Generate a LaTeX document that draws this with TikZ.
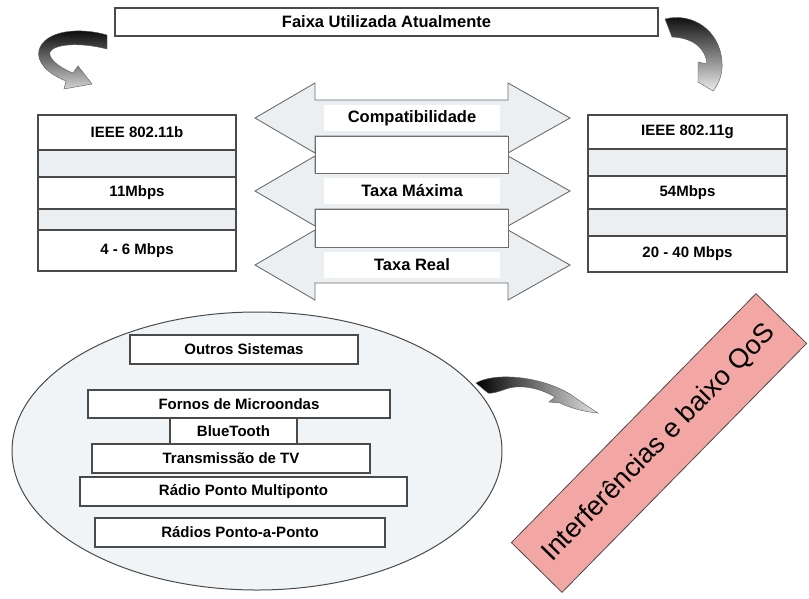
\documentclass[tikz,border=0pt]{standalone}
\usepackage{fontspec}
\setmainfont{Liberation Sans}
\usetikzlibrary{shapes.geometric}
\definecolor{edge}{HTML}{4A4A4A}
\definecolor{pale}{HTML}{EBEFF2}
\definecolor{bubble}{HTML}{F0F4F7}
\definecolor{rose}{HTML}{F3A7A4}
\newcommand{\lbl}{\bfseries\fontsize{15}{18}\selectfont}
\newcommand{\biglbl}{\bfseries\fontsize{16.5}{19}\selectfont}
\begin{document}
\begin{tikzpicture}[x=1pt,y=-1pt,
  frame/.style={draw=edge, line width=1.1pt, inner sep=0pt, font=\lbl},
  lrow/.style={frame, minimum width=198pt},
  rrow/.style={frame, minimum width=199pt},
  txtrow/.style={fill=white},
  gaprow/.style={fill=pale},
  blockarrow/.style={draw=edge!80, line width=0.9pt, fill=pale},
  shaftlabel/.style={fill=white, inner sep=0pt, minimum width=176pt, minimum height=26pt, font=\biglbl},
  lbox/.style={frame, fill=white, minimum height=29pt},
  swoosh/.style={draw=gray!70!black, line width=0.4pt}]
\useasboundingbox (0,0) rectangle (809,598);
\fill[white] (0,0) rectangle (809,598);

% title bar
\node[frame, fill=white, minimum width=543pt, minimum height=28pt, font=\biglbl] (faixa) at (386.5,22) {Faixa Utilizada Atualmente};

% curled arrows from the title down to both standards
\shade[swoosh, top color=black, bottom color=gray!35]
  (107,35) .. controls (80,27) and (45,30) .. (39,50)
  .. controls (36,62) and (48,74) .. (66,81) -- (64,89) -- (92,84) -- (78,66) -- (73,73)
  .. controls (58,67) and (48,58) .. (50,52)
  .. controls (54,44) and (80,42) .. (107,49) -- cycle;
\shade[swoosh, top color=black, bottom color=gray!15]
  (665,19) .. controls (692,12) and (720,30) .. (722,62)
  .. controls (723,75) and (718,85) .. (713,91) -- (698,82) -- (698,62) -- (707,64)
  .. controls (706,50) and (695,38) .. (672,37) -- cycle;

% IEEE 802.11b column
\node[lrow, txtrow, minimum height=35pt] (b1) at (137,132.5) {IEEE 802.11b};
\node[lrow, gaprow, minimum height=27pt] (b2) at (137,163.5) {};
\node[lrow, txtrow, minimum height=32pt] (b3) at (137,193) {11Mbps};
\node[lrow, gaprow, minimum height=21pt] (b4) at (137,219.5) {};
\node[lrow, txtrow, minimum height=41pt] (b5) at (137,250.5) {4 - 6 Mbps};

% IEEE 802.11g column
\node[rrow, txtrow, minimum height=34pt] (g1) at (687.5,132) {IEEE 802.11g};
\node[rrow, gaprow, minimum height=27pt] (g2) at (687.5,162.5) {};
\node[rrow, txtrow, minimum height=33pt] (g3) at (687.5,192.5) {54Mbps};
\node[rrow, gaprow, minimum height=27pt] (g4) at (687.5,222.5) {};
\node[rrow, txtrow, minimum height=36pt] (g5) at (687.5,254) {20 - 40 Mbps};

% double block arrows between the two columns
\foreach \c in {118,191,265}{
  \draw[blockarrow] (255,\c) -- (315,\c-35) -- (315,\c-18) -- (508,\c-18) -- (508,\c-35)
    -- (570,\c) -- (508,\c+35) -- (508,\c+18) -- (315,\c+18) -- (315,\c+35) -- cycle;
}
\draw[blockarrow, fill=white] (315,136) rectangle (508,173);
\draw[blockarrow, fill=white] (315,209) rectangle (508,247);
\node[shaftlabel] (compat) at (412,118) {Compatibilidade};
\node[shaftlabel] (taxamax) at (412,191) {Taxa Máxima};
\node[shaftlabel] (taxareal) at (412,265) {Taxa Real};

% other systems sharing the band
\node[ellipse, draw=edge, line width=1pt, fill=bubble, inner sep=0pt,
      minimum width=490pt, minimum height=278pt] (bubble) at (257,451) {};
\node[lbox, minimum width=228pt] (outros) at (244,349.5) {Outros Sistemas};
\node[lbox, minimum width=302pt, minimum height=28pt] (fornos) at (239,404) {Fornos de Microondas};
\node[frame, fill=white, minimum width=127pt, minimum height=26pt] (bt) at (233.5,431) {BlueTooth};
\node[lbox, minimum width=278pt] (tv) at (231,458.5) {Transmissão de TV};
\node[lbox, minimum width=327pt] (multi) at (243.5,491.5) {Rádio Ponto Multiponto};
\node[lbox, minimum width=290pt] (ponto) at (240,532.5) {Rádios Ponto-a-Ponto};

% swoosh from the ellipse towards the consequence
\shade[swoosh, left color=black, right color=gray!20]
  (476,383) .. controls (495,372) and (540,376) .. (570,394)
  .. controls (580,401) and (590,408) .. (598,413)
  .. controls (585,412) and (570,408) .. (560,403) -- (549,402) -- (555,397)
  .. controls (540,388) and (520,384) .. (506,389)
  .. controls (498,392) and (490,394) .. (488,393) -- cycle;

\node[draw=edge, line width=0.8pt, fill=rose, rotate=45.5, inner sep=0pt,
      minimum width=349pt, minimum height=71pt, font=\fontsize{27}{32}\selectfont]
      (qos) at (659,443) {Interferências e baixo QoS};
\end{tikzpicture}
\end{document}
